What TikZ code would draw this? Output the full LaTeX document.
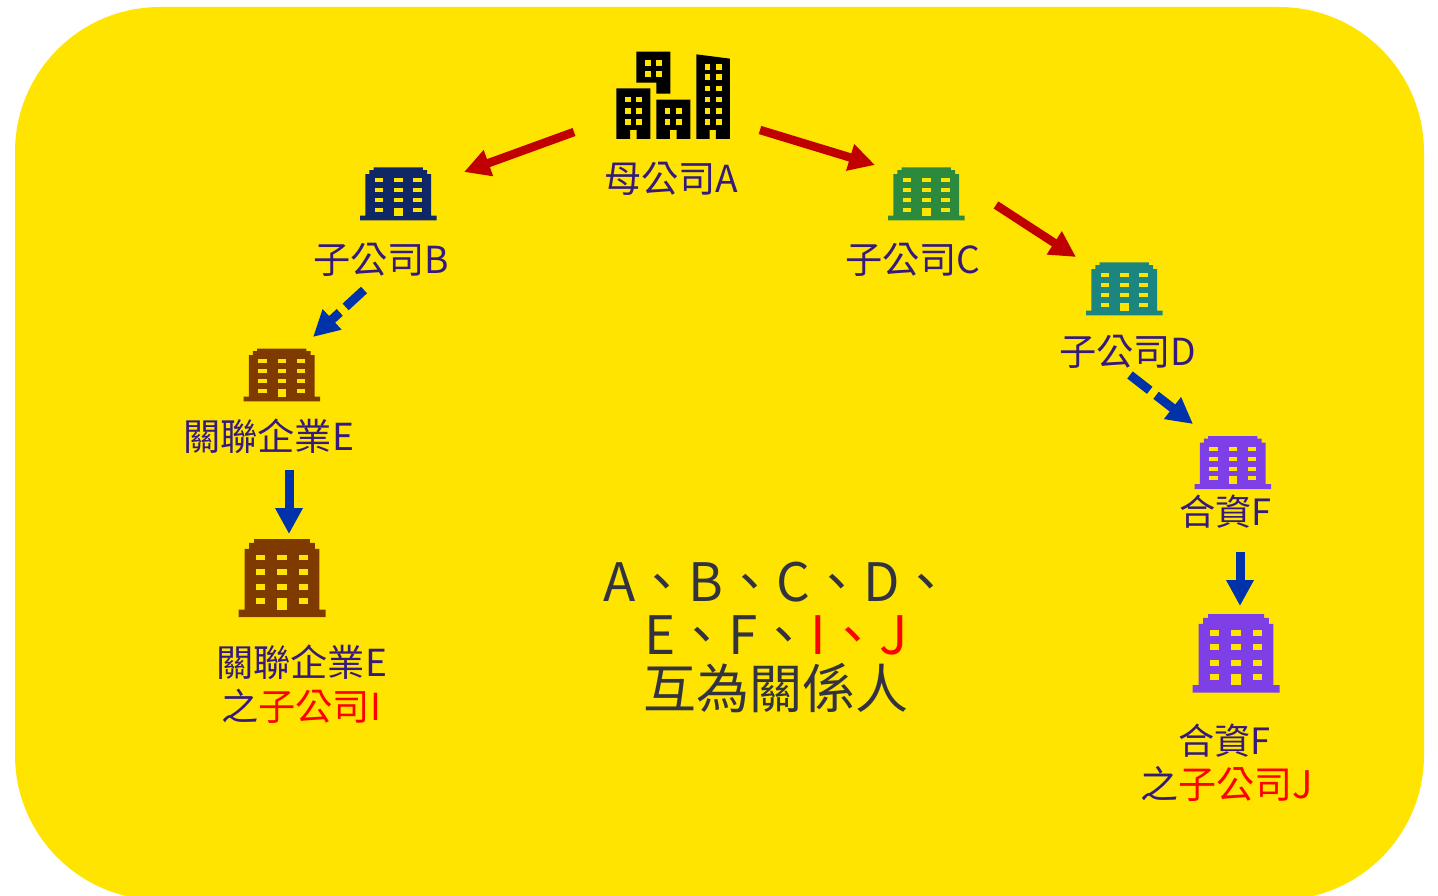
\documentclass[tikz,border=0pt]{standalone}
\usepackage{fontspec}
\setmainfont{Noto Sans CJK TC}
\usetikzlibrary{arrows.meta}
\definecolor{bgy}{HTML}{FFE400}
\definecolor{lab}{HTML}{351A7C}
\definecolor{gry}{HTML}{33333F}
\definecolor{arrred}{HTML}{C00000}
\definecolor{arrblue}{HTML}{0033AA}
\definecolor{navyb}{HTML}{0F2766}
\definecolor{greenb}{HTML}{2B8A3E}
\definecolor{tealb}{HTML}{1C8580}
\definecolor{brownb}{HTML}{7F3A00}
\definecolor{purpb}{HTML}{7F3FE6}
\tikzset{
  lbl/.style={anchor=base west,inner sep=0pt,font=\fontsize{37.2}{37.2}\selectfont,text=lab},
  lblsm/.style={lbl,font=\fontsize{36.2}{36.2}\selectfont},
  lblbg/.style={lbl,font=\fontsize{38}{38}\selectfont},
  big/.style={anchor=base west,inner sep=0pt,font=\fontsize{53}{53}\selectfont,text=gry},
  redarr/.style={arrred,line width=8.5pt,-{Triangle[length=26pt,width=26pt]}},
  bluearr/.style={arrblue,line width=9pt,-{Triangle[length=26pt,width=26pt]}},
  bluedash/.style={bluearr,dash pattern=on 25pt off 8pt}
}
\newcommand{\bldg}[5]{%
  \begin{scope}[shift={(#1,#2)},x=#3pt/230,y=-#4pt/160]
    \fill[#5] (0,145) -- (16,145) -- (16,20) -- (28,20) -- (28,8) -- (41,8) -- (41,0) -- (189,0) -- (189,8) -- (202,8) -- (202,20) -- (214,20) -- (214,145) -- (230,145) -- (230,160) -- (0,160) -- cycle;
    \foreach \wx in {45,103,160}{\foreach \wy in {32,62,93,122}{\fill[bgy] (\wx,\wy) rectangle ++(25,12);}}
    \fill[bgy] (103,122) rectangle (128,145);
  \end{scope}}
\newcommand{\winpair}[3]{\fill[bgy] (#1,#3) rectangle ++(17,17); \fill[bgy] (#2,#3) rectangle ++(17,17);}
\begin{document}
\begin{tikzpicture}[x=1pt,y=-1pt]
\useasboundingbox (0,0) rectangle (1438,896);
\clip (0,0) rectangle (1438,896);
\fill[white] (0,0) rectangle (1438,896);
\fill[bgy,rounded corners=145pt] (15,7) rectangle (1424,900);
% group of buildings
\begin{scope}[shift={(590,30)},x=0.3333pt,y=-0.3333pt]
  \fill[black] (79,175) -- (181,175) -- (181,327) -- (140,327) -- (140,300) -- (120,300) -- (120,327) -- (79,327) -- cycle;
  \fill[black] (199,209) -- (301,209) -- (301,327) -- (260,327) -- (260,300) -- (240,300) -- (240,327) -- (199,327) -- cycle;
  \fill[black] (139,65) -- (241,65) -- (241,191) -- (199,191) -- (199,158) -- (139,158) -- cycle;
  \fill[black] (319,73) -- (420,86) -- (420,327) -- (378,327) -- (378,300) -- (359,300) -- (359,327) -- (319,327) -- cycle;
  \foreach \wy in {200,234,268}{\winpair{105}{139}{\wy}}
  \foreach \wy in {234,268}{\winpair{224}{258}{\wy}}
  \foreach \wy in {90,124}{\winpair{165}{198}{\wy}}
  \foreach \wy in {103,133,167,200,234,268}{\winpair{344}{378}{\wy}}
\end{scope}
\bldg{360}{167.5}{76.5}{53}{navyb}
\bldg{888}{167.5}{76.5}{53}{greenb}
\bldg{1086}{262.5}{76.5}{53}{tealb}
\bldg{243.5}{348.5}{76.5}{53}{brownb}
\bldg{238.5}{539}{87}{78}{brownb}
\bldg{1194.5}{436}{76.5}{53}{purpb}
\bldg{1192.5}{614}{87}{78.5}{purpb}
% labels
\node[lbl] (la) at (604,193) {母公司A};
\node[lbl] (lb) at (313,273) {子公司B};
\node[lbl] (lc) at (845,273) {子公司C};
\node[lbl] (ld) at (1059,365) {子公司D};
\node[lbl] (le) at (183,450) {關聯企業E};
\node[lblsm] (lf) at (1179,525) {合資F};
\node[lbl] (li1) at (216,676) {關聯企業E};
\node[lbl] (li2) at (221,720) {之\textcolor{red}{子公司I}};
\node[lblsm] (lj1) at (1178,754) {合資F};
\node[lblbg] (lj2) at (1140,798) {之\textcolor{red}{子公司J}};
\node[big] (t1) at (603,601) {A、B、C、D、};
\node[big] (t2) at (644,654) {E、F、\textcolor{red}{I、J}};
\node[big] (t3) at (643,708) {互為關係人};
% connector ends
\coordinate (a1) at (574,132); \coordinate (b1) at (464,172);
\coordinate (a2) at (760,130); \coordinate (c1) at (875,165);
\coordinate (c2) at (996,205); \coordinate (d1) at (1076,257);
\coordinate (b2) at (364,290); \coordinate (e1) at (313,337);
\coordinate (d2) at (1130,375); \coordinate (f1) at (1193,424);
\coordinate (e2) at (289,470); \coordinate (i1) at (289,534);
\coordinate (f2) at (1240,552); \coordinate (j1) at (1240,606);
\draw[redarr] (a1) -- (b1);
\draw[redarr] (a2) -- (c1);
\draw[redarr] (c2) -- (d1);
\draw[bluedash] (b2) -- (e1);
\draw[bluedash] (d2) -- (f1);
\draw[bluearr] (e2) -- (i1);
\draw[bluearr] (f2) -- (j1);
\end{tikzpicture}
\end{document}
